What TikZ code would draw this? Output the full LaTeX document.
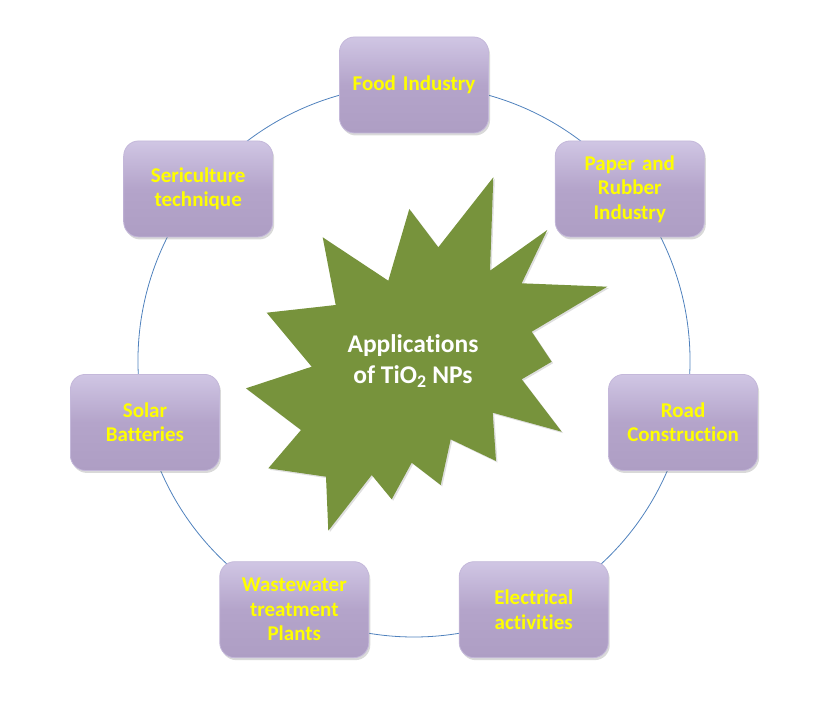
\documentclass[tikz,border=0pt]{standalone}
\usepackage{fontspec}
\setmainfont{Carlito}[Ligatures=NoCommon]
\usetikzlibrary{shadows,backgrounds}
\definecolor{lavtop}{RGB}{208,198,228}
\definecolor{lavmid}{RGB}{180,164,202}
\definecolor{lavbot}{RGB}{174,158,196}
\definecolor{lavedge}{RGB}{196,184,218}
\definecolor{olive}{RGB}{119,147,60}
\definecolor{ringblue}{RGB}{79,129,189}
\definecolor{signyellow}{RGB}{255,255,0}

\begin{document}
\begin{tikzpicture}[x=1pt, y=1pt,
      appbox/.style={rounded corners=15pt, minimum width=149pt, minimum height=96pt,
                     text width=141pt, inner sep=4pt, align=center,
                     top color=lavtop, bottom color=lavbot, middle color=lavmid,
                     draw=lavedge, line width=0.8pt, text=signyellow,
                     font=\fontsize{21}{24.5}\selectfont\bfseries,
                     drop shadow={opacity=0.3, shadow xshift=1.5pt, shadow yshift=-2.5pt}},
      ring/.style={ringblue, line width=0.8pt, bend left=25.7, looseness=0.9},
      burst/.style={fill=olive, drop shadow={opacity=0.25, shadow xshift=1.5pt, shadow yshift=-1.5pt}},
      title/.style={text=white, align=center, font=\fontsize{25.5}{31}\selectfont\bfseries}]
    \useasboundingbox (-414,-343) rectangle (404,361);
    % centre burst
    \fill[burst] (-91.3,123.7) -- (-25.7,80.3) -- (-4.7,152) -- (24.3,113.7) -- (79.3,183.7)
      -- (76,90.3) -- (133.3,131) -- (107.7,77.7) -- (193.3,74.3) -- (117.7,29.3)
      -- (137.7,-0.7) -- (107.7,-18.3) -- (147.7,-70.7) -- (78.7,-51.7) -- (82,-100)
      -- (36.7,-78.3) -- (26.7,-124) -- (-2.3,-101.7) -- (-22.3,-138.3) -- (-42.3,-114)
      -- (-85.7,-169.7) -- (-88,-115.7) -- (-145.7,-107.3) -- (-113,-69) -- (-168,-27.3)
      -- (-102.3,-5.7) -- (-147.3,48.3) -- (-78.3,56) -- cycle;
    \node[title] (hub) at (-1,0) {Applications\\of TiO\textsubscript{2} NPs};
    % ring of 7 applications
    \foreach \ang/\name/\txt in {90/food/{Food Industry},
        38.57/paper/{Paper and\\Rubber\\Industry},
        -12.86/road/{Road\\Construction},
        -64.29/elec/{Electrical\\activities},
        -115.71/waste/{Wastewater\\treatment\\Plants},
        -167.14/solar/{Solar\\Batteries},
        141.43/seri/{Sericulture\\technique}}{
      \node[appbox] (\name) at (\ang:276) {\txt};
    }
    % circle joining the boxes
    \begin{scope}[on background layer]
      \foreach \u/\v in {food/paper, paper/road, road/elec, elec/waste,
                         waste/solar, solar/seri, seri/food}{
        \draw[ring] (\u.center) to (\v.center);
      }
    \end{scope}
  \end{tikzpicture}
\end{document}
